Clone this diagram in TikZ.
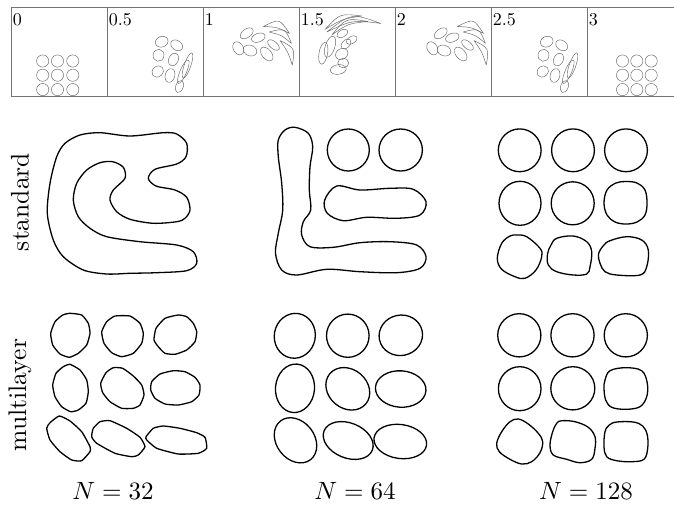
\documentclass[tikz,border=0pt]{standalone}
\usetikzlibrary{calc}
\newcommand\cres[6]{%
  \path (#1,#2) coordinate (cA) (#3,#4) coordinate (cB) ($(cA)!0.5!(cB)$) coordinate (cM);
  \draw[tinyshape] (cA) .. controls ($(cM)!#5pt!90:(cB)$) .. (cB) .. controls ($(cM)!#6pt!90:(cB)$) .. (cA) -- cycle;}
\newcommand\tinyell[5]{\draw[tinyshape, rotate around={#5:(#1,#2)}] (#1,#2) ellipse (#3 and #4);}
\begin{document}
\begin{tikzpicture}[x=1pt,y=-1pt]
\tikzset{
  frameline/.style={draw=black!55, line width=0.6},
  tinyshape/.style={draw=black!60, line width=0.45, line join=round},
  blob/.style={draw=black, line width=1.3, line join=round},
  toplabel/.style={anchor=north west, inner sep=0pt, scale=1.8},
  rowlabel/.style={rotate=90, inner sep=0pt, scale=2.55},
  nlabel/.style={anchor=base, inner sep=0pt, scale=2.5},
}
\useasboundingbox (0,0) rectangle (674,504);

% ---- top strip frame
\draw[frameline] (11,7) -- (674,7);
\draw[frameline] (11,96) -- (674,96);
\foreach \x in {11,107,203,299,395,491,587} \draw[frameline] (\x,7) -- (\x,96);

\node[toplabel] (t0) at (12.5,13.5) {0};
\node[toplabel] (t1) at (108.5,13.5) {0.5};
\node[toplabel] (t2) at (204.5,13.5) {1};
\node[toplabel] (t3) at (300.5,13.5) {1.5};
\node[toplabel] (t4) at (396.5,13.5) {2};
\node[toplabel] (t5) at (492.5,13.5) {2.5};
\node[toplabel] (t6) at (588.5,13.5) {3};

% ---- panel 0 and 3 grids
\foreach \x in {42.7,57.5,72.8} \foreach \y in {61,75.2,89.6} \draw[tinyshape] (\x,\y) circle (6.1);
\foreach \x in {622.5,636.8,651.2} \foreach \y in {61,75.2,89.6} \draw[tinyshape] (\x,\y) circle (6.1);

% ---- panel 0.5 and 2.5
\foreach \s in {0,385}{
\begin{scope}[shift={(\s,0)}]
\tinyell{161.7}{41.7}{6.5}{5.3}{20}
\tinyell{176.7}{45.3}{6.5}{4.8}{-35}
\tinyell{158.5}{55.3}{6}{5.5}{80}
\tinyell{173.5}{59.5}{6.5}{4.8}{65}
\tinyell{157.7}{71.5}{6.2}{5.2}{40}
\tinyell{170}{75.5}{7}{4.8}{75}
\tinyell{187.5}{65.5}{13.3}{3.3}{71}
\tinyell{183.3}{71.7}{12.7}{3.3}{67}
\tinyell{179.5}{86.5}{6.3}{3.8}{70}
\end{scope}}

% ---- panel 1 and 2
\foreach \s in {0,194}{
\begin{scope}[shift={(\s,0)}]
\tinyell{246.7}{33.3}{7.3}{4.3}{35}
\tinyell{258.3}{37.7}{7}{4.3}{20}
\tinyell{238.3}{48.3}{7}{5}{-60}
\tinyell{250}{50.5}{7}{5.3}{-20}
\tinyell{266.7}{54}{8}{4.8}{-50}
\tinyell{273.5}{45}{7}{3.6}{-40}
\cres{263.3}{26.5}{289.5}{33.5}{12}{3}
\cres{269}{32}{291.5}{43.5}{11}{3}
\cres{280}{40.5}{292.3}{65}{10}{2}
\end{scope}}

% ---- panel 1.5
\cres{325}{29.5}{362}{16}{10}{4}
\cres{326.7}{32}{381}{23.5}{15}{8}
\cres{331.7}{35}{368}{21.5}{11}{5}
\tinyell{342.3}{33.5}{6}{3.5}{30}
\tinyell{351.7}{40}{6}{3.5}{30}
\tinyell{346}{44}{6}{3.8}{45}
\tinyell{330}{46.7}{11}{4.8}{72}
\tinyell{323.3}{53.3}{11}{4.3}{80}
\tinyell{341.7}{54}{6.5}{5.3}{30}
\tinyell{343.3}{63}{5.5}{4.8}{0}
\tinyell{338.3}{69.5}{8}{4.8}{8}

% ---- row labels
\node[rowlabel] (lstd) at (20,202) {standard};
\node[rowlabel] (lml) at (20,395) {multilayer};

% ---- standard, N=32
\draw[blob] plot[smooth cycle, tension=0.5] coordinates {
(80,135) (100,132.7) (130,136) (163.3,132.7) (176.7,134) (186.7,143.3) (186,156.7)
(176.7,164) (155,169.3) (148.3,178.3) (156,186) (175,190) (186.7,197.3) (190,210)
(185,218.3) (176.7,221.7) (153.3,223.3) (130,219.3) (116.7,211.7) (110,200) (113.3,190)
(125,178.3) (123.3,167.3) (112.7,161.7) (100,162.7) (86.7,170) (76.7,183.3) (73.3,200)
(78.3,216.7) (90,228.3) (106.7,236.7) (140,241.7) (176.7,245) (193.3,251.7) (196.7,263.3)
(186.7,270.7) (156.7,272.7) (130,273.3) (106.7,274) (83.3,270) (63.3,256.7) (53.3,240)
(47.3,213.3) (50,183.3) (56.7,156.7) (65,143.3)};

% ---- standard, N=64
\draw[blob] plot[smooth cycle, tension=0.55] coordinates {
(295,127.3) (308.3,133.3) (312.7,146.7) (310,166.7) (309.3,190) (310.7,210) (303.3,221.7)
(301.7,235) (310,246.7) (333.3,247.3) (360,242.7) (390,241.7) (416.7,245) (426,256.7)
(420,268.3) (396.7,272.7) (360,271.7) (326.7,269.3) (296.7,275) (281.7,270) (275.5,253.3)
(278.3,233.3) (282.7,210) (281.7,183.3) (278.3,156.7) (278.3,140) (285,130)};
\draw[blob] (348.3,150) circle (21);
\draw[blob] (400.7,150) ellipse (21.7 and 21);
\draw[blob] plot[smooth cycle, tension=0.55] coordinates {
(336.7,186) (360,190) (390,188.3) (413.3,189.3) (426,201.7) (420,215) (396.7,218.3)
(366.7,217.3) (343.3,220.7) (327.3,213.3) (324.7,200)};

% ---- standard, N=128
\draw[blob] (519.7,150.3) circle (21.4);
\draw[blob] (573,150.3) circle (21.4);
\draw[blob] (626,150.3) circle (21.4);
\draw[blob] (520,203.3) ellipse (21 and 22);
\draw[blob] (572.7,203.3) circle (21.5);
\draw[blob] plot[smooth cycle, tension=0.6] coordinates {
(604,203) (607,190) (616,183) (626,181.5) (637,183) (645,190) (647,203) (645,215) (637,222) (626,224) (615,222) (607,215)};
\draw[blob] plot[smooth cycle, tension=0.6] coordinates {
(516.7,235) (526.7,236.7) (540,248.3) (541.7,256.7) (536,270) (525,278.3) (515,276.7)
(501.7,269.3) (497.3,258.3) (501.7,243.3) (510,236)};
\draw[blob] plot[smooth cycle, tension=0.6] coordinates {
(556.7,238.3) (573.3,236) (586.7,241.7) (591.7,251.7) (590,266.7) (586.7,274) (573.3,275)
(556.7,271.7) (548.3,265) (547.5,254) (551,245)};
\draw[blob] plot[smooth cycle, tension=0.6] coordinates {
(610,240.7) (626.7,236.7) (641.7,240) (648.3,250) (646.7,266.7) (640,275) (616.7,275)
(605,271.7) (600,263.3) (598.5,254) (603.5,245.5)};

% ---- multilayer, N=32
\draw[blob] plot[smooth cycle, tension=0.3] coordinates {
(70,313.3) (81.7,315) (88.3,323.3) (90,333.3) (86.7,345) (78.3,353.3) (69.3,357.3) (60,354) (52.7,345) (50.7,333.3) (55,321.7) (62.7,315)};
\draw[blob] plot[smooth cycle, tension=0.3] coordinates {
(115,316) (130,316) (140,323.3) (143.3,333.3) (141.7,343.3) (133.3,353.3) (121.7,356.7) (111.7,352.7) (104,343.3) (101.7,331.7) (106.7,321.7)};
\draw[blob] plot[smooth cycle, tension=0.3] coordinates {
(165,318.3) (178.3,315) (186.7,316.7) (193.3,323.3) (196.7,331.7) (195,341.7) (186.7,350) (175,354.3) (165,353.3) (158.3,346.7) (154,340) (156,328.3)};
\draw[blob] plot[smooth cycle, tension=0.3] coordinates {
(70,364.3) (80,370) (86.7,380) (88.3,391.7) (86,403.3) (78.3,410) (70.7,411.7) (61.7,406.7) (55,396.7) (52.7,385) (56,373.3) (63.3,366.7)};
\draw[blob] plot[smooth cycle, tension=0.3] coordinates {
(113.3,367.7) (122.7,368.3) (133.3,376) (141.7,385) (144,395) (140,405) (133.3,408.3) (121.7,408.3) (110,401.7) (102.7,392.7) (100.7,383.3) (106,372.7)};
\draw[blob] plot[smooth cycle, tension=0.3] coordinates {
(160,374) (173.3,370.7) (185,371.7) (195,377.3) (200,385) (199,395) (191.7,401.7) (178.3,405) (165,404) (155,398.3) (150.7,390) (151.7,381.7)};
\draw[blob] plot[smooth cycle, tension=0.3] coordinates {
(59.3,416) (70,421) (81.7,431.7) (90,446.7) (90,451.7) (81.7,460.7) (71.7,460) (60,451.7) (50,440) (46.7,428.3) (50,422.7)};
\draw[blob] plot[smooth cycle, tension=0.3] coordinates {
(100,421.7) (110,420.7) (126.7,428.3) (140,437.3) (145,446.7) (138.3,455) (131.7,456.7) (115,453.3) (96.7,443.3) (91.7,436.7) (93.3,428.3)};
\draw[blob] plot[smooth cycle, tension=0.3] coordinates {
(153.3,428.3) (163.3,426) (180,428.3) (196.7,432.7) (205,437.3) (206.7,448.3) (198.3,453.3) (178.3,454) (156.7,448.3) (146.7,440) (146,436.7)};

% ---- multilayer, N=64
\draw[blob, rotate around={80:(294.8,335.8)}] (294.8,335.8) ellipse (22.5 and 20.5);
\draw[blob] (347.8,335.7) ellipse (21.3 and 21.6);
\draw[blob, rotate around={12:(400.8,335.3)}] (400.8,335.3) ellipse (21.8 and 20.2);
\draw[blob, rotate around={85:(295,388.3)}] (295,388.3) ellipse (24.3 and 19.5);
\draw[blob, rotate around={-40:(347.8,388.8)}] (347.8,388.8) ellipse (23.5 and 19.5);
\draw[blob, rotate around={-4:(400.7,389)}] (400.7,389) ellipse (25.3 and 18.2);
\draw[blob, rotate around={-52:(295.5,440.3)}] (295.5,440.3) ellipse (24.5 and 19);
\draw[blob, rotate around={-22:(348.2,440.5)}] (348.2,440.5) ellipse (26 and 17.5);
\draw[blob, rotate around={-8:(400.3,441.5)}] (400.3,441.5) ellipse (26.5 and 17);

% ---- multilayer, N=128
\draw[blob] (519.3,335.3) circle (21.6);
\draw[blob] (572.5,335.3) circle (21.6);
\draw[blob] (625.8,335.3) circle (21.6);
\draw[blob] (519.7,388.7) ellipse (21.3 and 22);
\draw[blob] (572.8,388.3) ellipse (22 and 21.6);
\draw[blob] plot[smooth cycle, tension=0.6] coordinates {
(605,380) (610,370.7) (625.7,367.7) (641.7,370.7) (647.3,383.3) (646.7,396.7) (640,406.7) (625.7,409.3) (611.7,407.3) (605.7,400) (604,388.3)};
\draw[blob] plot[smooth cycle, tension=0.6] coordinates {
(518.3,419) (528.3,424) (538.3,433.3) (542.7,441.7) (540,452.7) (531.7,461.7) (521.7,464) (510,459.3) (499.3,451.7) (496.7,443.3) (501.7,431.7) (510,421.7)};
\draw[blob] plot[smooth cycle, tension=0.6] coordinates {
(561.7,420.7) (575,421.7) (588.3,427.3) (595,436.7) (595,448.3) (591.7,459.3) (580,462.7) (566.7,459.3) (553.3,455) (550,445) (552.7,431.7) (556.7,423.3)};
\draw[blob] plot[smooth cycle, tension=0.6] coordinates {
(616.7,422) (633.3,422) (642.7,426) (647.3,435) (647.7,448.3) (644,459.3) (631.7,461.7) (616.7,460.7) (606.7,456.7) (604,446.7) (605,431.7) (609.3,425)};

% ---- N labels
\node[nlabel] (n32) at (113,499.5) {$N=32$};
\node[nlabel] (n64) at (355,499.5) {$N=64$};
\node[nlabel] (n128) at (586,499.5) {$N=128$};
\end{tikzpicture}
\end{document}
